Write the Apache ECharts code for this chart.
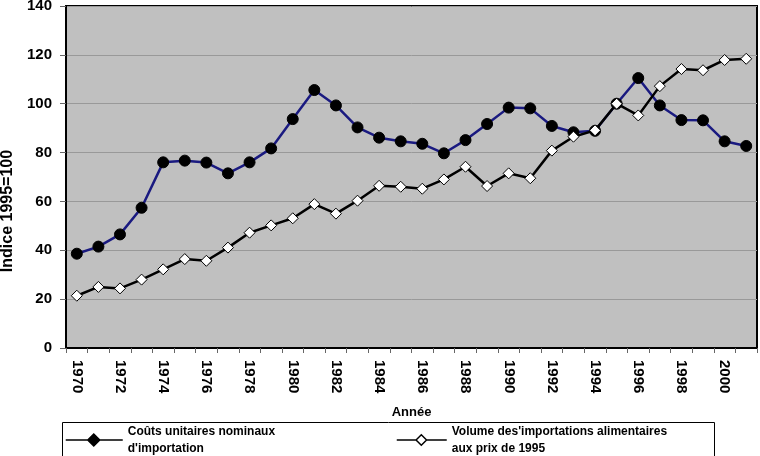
<!DOCTYPE html>
<html>
<head>
<meta charset="utf-8">
<script src="https://cdn.jsdelivr.net/npm/echarts@6/dist/echarts.min.js"></script>
<style>html,body{margin:0;padding:0;background:#fff;}#c{width:760px;height:456px;}</style>
</head>
<body>
<div id="c"></div>
<script>
var years = [];
for (var y = 1970; y <= 2001; y++) years.push(String(y));
var seriesNames = ["Coûts unitaires nominaux\nd'importation", "Volume des'importations alimentaires\naux prix de 1995"];
var coutsUnitaires = [38.6, 41.5, 46.5, 57.4, 76.0, 76.7, 75.9, 71.5, 76.0, 81.7, 93.7, 105.6, 99.3, 90.3, 86.1, 84.6, 83.6, 79.7, 85.1, 91.7, 98.4, 98.1, 90.9, 88.3, 88.9, 100.0, 110.5, 99.3, 93.3, 93.2, 84.6, 82.7];
var volumeImportations = [21.4, 25.0, 24.4, 28.0, 32.2, 36.4, 35.7, 41.1, 47.2, 50.2, 53.1, 58.9, 55.0, 60.3, 66.4, 66.0, 65.2, 69.0, 74.2, 66.3, 71.5, 69.5, 80.8, 86.5, 89.1, 100.0, 95.2, 107.2, 114.2, 113.7, 117.9, 118.4];
var yTicks = { min: 0, max: 140, interval: 20 };

var F = 'Liberation Sans, Arial, sans-serif';
var iconPath = 'path://M0,6 L22,6 M22,6 L28,0 L34,6 L28,12 Z M34,6 L57,6';
var legendText = { fontFamily: F, fontWeight: 'bold', fontSize: 12, color: '#000', lineHeight: 17 };

var chart = echarts.init(document.getElementById('c'), null, { renderer: 'canvas' });
chart.setOption({
  animation: false,
  backgroundColor: '#fff',
  grid: { left: 66, right: 3, top: 6, bottom: 108, containLabel: false, outerBoundsMode: 'none', show: true, backgroundColor: '#c0c0c0', borderColor: '#000', borderWidth: 2 },
  graphic: [{ type: 'rect', left: 60, top: 420, shape: { width: 652, height: 34 }, style: { fill: 'none', stroke: '#000', lineWidth: 1 }, z: 10 }],
  legend: [
    { left: 65, top: 423, orient: 'horizontal', itemWidth: 57, itemHeight: 12, itemGap: 0, padding: 0,
      textStyle: legendText,
      data: [{ name: seriesNames[0], icon: iconPath, itemStyle: { color: '#000', borderColor: '#000', borderWidth: 1.5 } }] },
    { left: 396, top: 423, orient: 'horizontal', itemWidth: 50, itemHeight: 12, itemGap: 0, padding: 0,
      textStyle: legendText,
      data: [{ name: seriesNames[1], icon: iconPath, itemStyle: { color: '#fff', borderColor: '#000', borderWidth: 1.5 } }] }
  ],
  xAxis: {
    type: 'category', data: years, boundaryGap: true,
    name: 'Année', nameLocation: 'middle', nameGap: 58,
    nameTextStyle: { fontFamily: F, fontWeight: 'bold', fontSize: 13, color: '#000' },
    axisLine: { show: true, lineStyle: { color: '#000', width: 2 } },
    axisTick: { show: true, alignWithLabel: false, interval: 0, length: 5, lineStyle: { color: '#666', width: 1 } },
    axisLabel: { interval: 1, rotate: -90, margin: 12, fontFamily: F, fontWeight: 'bold', fontSize: 15, color: '#000' },
    splitLine: { show: false }
  },
  yAxis: {
    type: 'value', min: yTicks.min, max: yTicks.max, interval: yTicks.interval,
    name: 'Indice 1995=100', nameLocation: 'middle', nameGap: 45, nameRotate: 90,
    nameTextStyle: { fontFamily: F, fontWeight: 'bold', fontSize: 16, color: '#000', padding: [0, 68, 0, 0] },
    axisLine: { show: true, lineStyle: { color: '#000', width: 2 } },
    axisTick: { show: true, length: 6, lineStyle: { color: '#666', width: 1 } },
    axisLabel: { margin: 14, fontFamily: F, fontWeight: 'bold', fontSize: 15, color: '#000' },
    splitLine: { show: true, lineStyle: { color: '#999', width: 1 } }
  },
  series: [
    { name: seriesNames[0], type: 'line', data: coutsUnitaires, symbol: 'circle', symbolSize: 11,
      lineStyle: { color: '#1a1a80', width: 2.5 }, itemStyle: { color: '#000', borderColor: '#000', borderWidth: 1 } },
    { name: seriesNames[1], type: 'line', data: volumeImportations, symbol: 'diamond', symbolSize: 11,
      lineStyle: { color: '#000', width: 2.5 }, itemStyle: { color: '#fff', borderColor: '#000', borderWidth: 1 } }
  ]
});
</script>
</body>
</html>
